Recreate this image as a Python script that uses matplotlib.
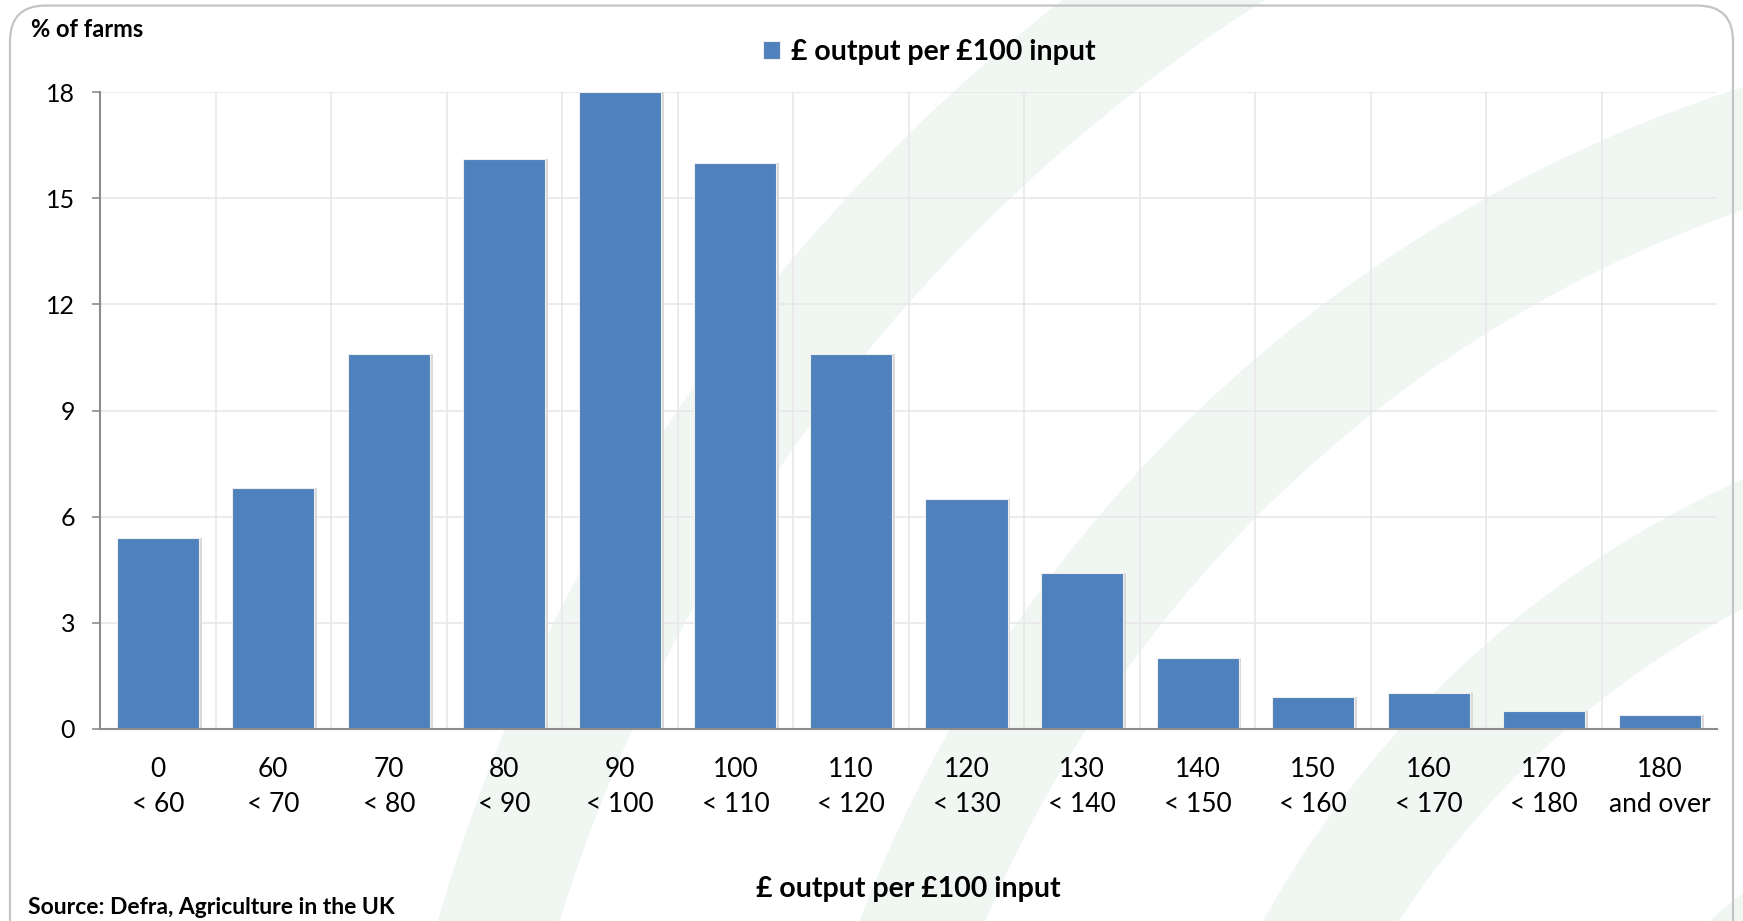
import matplotlib
matplotlib.use("Agg")
import matplotlib.pyplot as plt
from matplotlib.patches import Wedge, FancyBboxPatch

plt.rcParams['font.family'] = ['Lato', 'DejaVu Sans']

# data
lower = ["0", "60", "70", "80", "90", "100", "110", "120", "130", "140", "150", "160", "170", "180"]
upper = ["< 60", "< 70", "< 80", "< 90", "< 100", "< 110", "< 120", "< 130", "< 140",
         "< 150", "< 160", "< 170", "< 180", "and over"]
pct_farms = [5.4, 6.8, 10.6, 16.1, 18.0, 16.0, 10.6, 6.5, 4.4, 2.0, 0.9, 1.0, 0.5, 0.4]
yticks = [0, 3, 6, 9, 12, 15, 18]

W, H = 1568, 829  # reference layout units
fig = plt.figure(figsize=(17.43, 9.21), dpi=100)

# background: rounded frame and faint green arcs
bg = fig.add_axes([0, 0, 1, 1], zorder=0)
bg.set_xlim(0, W)
bg.set_ylim(0, H)
bg.axis('off')
cx, cy = 1950, -450
for r, w in [(1620, 105), (1260, 105), (930, 105), (610, 100)]:
    bg.add_patch(Wedge((cx, cy), r, 90, 180, width=w, facecolor='#f0f7f2', edgecolor='none'))
bg.add_patch(FancyBboxPatch((9, -40), W - 18, H - 5 + 40, boxstyle="round,pad=0,rounding_size=32",
                            facecolor='none', edgecolor='#c4c4c4', linewidth=1.6, clip_on=False))

ax = fig.add_axes([90 / W, 1 - 656 / H, (1545 - 90) / W, (656 - 83) / H], zorder=1)
ax.set_facecolor('none')

x = list(range(len(lower)))
# faint shadow behind each bar
ax.bar([v + 0.025 for v in x], pct_farms, width=0.71, color='#d9d9d9', zorder=2)
ax.bar(x, pct_farms, width=0.71, color='#4f81bd', edgecolor='#eeeeee', linewidth=0.8,
       zorder=3, label='£ output per £100 input')

ax.set_xlim(-0.5, len(lower) - 0.5)
ax.set_ylim(0, 18)
ax.set_yticks(yticks)
ax.set_xticks(x)
ax.set_xticklabels([a + "\n" + b for a, b in zip(lower, upper)], linespacing=1.5)

# gridlines: horizontal at ticks, vertical between categories
for yv in yticks[1:]:
    ax.axhline(yv, color='#e8e8e8', linewidth=1.2, zorder=1)
for k in range(1, len(lower)):
    ax.axvline(k - 0.5, color='#e8e8e8', linewidth=1.2, zorder=1)

for s in ['top', 'right']:
    ax.spines[s].set_visible(False)
for s in ['left', 'bottom']:
    ax.spines[s].set_color('#8c8c8c')
    ax.spines[s].set_linewidth(1.5)
    ax.spines[s].set_zorder(4)
ax.tick_params(axis='y', length=6, color='#8c8c8c', width=1.2, pad=12, labelsize=18)
ax.tick_params(axis='x', length=0, pad=20, labelsize=19)

fig.text(28 / W, 1 - 27 / H, "% of farms", fontsize=17, fontweight='bold', va='center', ha='left')
fig.text(817 / W, 1 - 800 / H, "£ output per £100 input", fontsize=20.5, fontweight='bold',
         va='center', ha='center')
fig.text(25 / W, 1 - 817 / H, "Source: Defra, Agriculture in the UK", fontsize=16.5,
         fontweight='bold', va='center', ha='left')

handles, labels = ax.get_legend_handles_labels()
leg = ax.legend(handles[-1:], labels[-1:], loc='center', bbox_to_anchor=(836 / W, 1 - 47 / H),
                bbox_transform=fig.transFigure, frameon=False, handlelength=0.6, handleheight=0.6,
                handletextpad=0.4, prop={'size': 20.5, 'weight': 'bold'})

fig.savefig("out.png", dpi=100, facecolor='white')
